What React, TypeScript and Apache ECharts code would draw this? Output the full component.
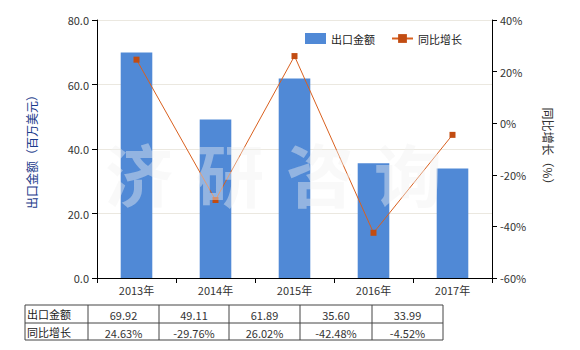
import React, { useEffect, useRef } from "react";
import * as echarts from "echarts";

const years = ["2013年", "2014年", "2015年", "2016年", "2017年"];
const exportValues = [69.92, 49.11, 61.89, 35.6, 33.99];
const growthValues = [24.63, -29.76, 26.02, -42.48, -4.52];
const exportLabels = ["69.92", "49.11", "61.89", "35.60", "33.99"];
const growthLabels = ["24.63%", "-29.76%", "26.02%", "-42.48%", "-4.52%"];
const rowNames = ["出口金额", "同比增长"];
const watermarkChars = ["济", "研", "咨", "询"];

export default function App() {
  const ref = useRef<HTMLDivElement>(null);
  useEffect(() => {
    document.body.style.margin = "0";
    if (!ref.current) return;
    const chart = echarts.init(ref.current, null, { renderer: "svg" });
    const font = "'Microsoft YaHei', 'Noto Sans CJK SC', sans-serif";
    const colX = [25, 88, 159, 229, 300, 372, 443];
    const rowY = [305, 323, 340];
    const graphics: any[] = [];
    rowY.forEach((y) =>
      graphics.push({
        type: "line",
        shape: { x1: colX[0], y1: y, x2: colX[colX.length - 1], y2: y },
        style: { stroke: "#444", lineWidth: 1 },
      })
    );
    colX.forEach((x) =>
      graphics.push({
        type: "line",
        shape: { x1: x, y1: rowY[0], x2: x, y2: rowY[2] },
        style: { stroke: "#444", lineWidth: 1 },
      })
    );
    rowNames.forEach((n, r) =>
      graphics.push({
        type: "text",
        x: 27,
        y: (rowY[r] + rowY[r + 1]) / 2,
        style: { text: n, fill: "#222", font: `11px ${font}`, verticalAlign: "middle" },
      })
    );
    [exportLabels, growthLabels].forEach((arr, r) =>
      arr.forEach((t, i) =>
        graphics.push({
          type: "text",
          x: (colX[i + 1] + colX[i + 2]) / 2,
          y: (rowY[r] + rowY[r + 1]) / 2 + 1,
          style: {
            text: t,
            fill: "#333",
            font: `11px ${font}`,
            align: "center",
            verticalAlign: "middle",
          },
        })
      )
    );
    const wmX = [139, 230, 320, 408];
    watermarkChars.forEach((c, i) =>
      graphics.push({
        type: "text",
        x: wmX[i],
        y: 172,
        style: {
          text: c,
          fill: "rgba(240,240,240,0.42)",
          font: `bold 68px ${font}`,
          align: "center",
          verticalAlign: "middle",
        },
        z: 100,
      })
    );

    chart.setOption({
      animation: false,
      textStyle: { fontFamily: font },
      grid: { left: 97, right: 88, top: 20, bottom: 72 },
      legend: {
        top: 28,
        left: 300,
        itemWidth: 21,
        itemHeight: 11,
        itemGap: 16,
        textStyle: { fontSize: 11, color: "#222" },
        data: [{ name: "出口金额", icon: "rect" }, { name: "同比增长" }],
      },
      xAxis: {
        type: "category",
        data: years,
        axisLine: { lineStyle: { color: "#000" } },
        axisTick: { show: true, lineStyle: { color: "#000" } },
        axisLabel: { color: "#333", fontSize: 11, margin: 6 },
      },
      yAxis: [
        {
          type: "value",
          min: 0,
          max: 80,
          interval: 20,
          name: "出口金额（百万美元）",
          nameLocation: "middle",
          nameGap: 60,
          nameRotate: 90,
          nameTextStyle: { color: "#1a3a8a", fontSize: 12 },
          axisLine: { show: true, lineStyle: { color: "#000" } },
          axisTick: { show: true, lineStyle: { color: "#000" } },
          axisLabel: { color: "#333", fontSize: 11, formatter: (v: number) => v.toFixed(1) },
          splitLine: { lineStyle: { color: "#ebe8e0" } },
        },
        {
          type: "value",
          min: -60,
          max: 40,
          interval: 20,
          name: "同比增长（%）",
          nameLocation: "middle",
          nameGap: 50,
          nameRotate: -90,
          nameTextStyle: { color: "#333", fontSize: 12 },
          axisLine: { show: true, lineStyle: { color: "#000" } },
          axisTick: { show: true, lineStyle: { color: "#000" } },
          axisLabel: { color: "#333", fontSize: 11, formatter: "{value}%" },
          splitLine: { show: false },
        },
      ],
      series: [
        {
          name: "出口金额",
          type: "bar",
          data: exportValues,
          barWidth: "40%",
          itemStyle: { color: "#5089d6" },
          z: 2,
        },
        {
          name: "同比增长",
          type: "line",
          yAxisIndex: 1,
          data: growthValues,
          symbol: "rect",
          symbolSize: 6,
          lineStyle: { color: "#d9601f", width: 1 },
          itemStyle: { color: "#c24c12" },
          z: 3,
        },
      ],
      graphic: graphics,
    });
    return () => chart.dispose();
  }, []);
  return <div ref={ref} style={{ width: 580, height: 350 }} />;
}
